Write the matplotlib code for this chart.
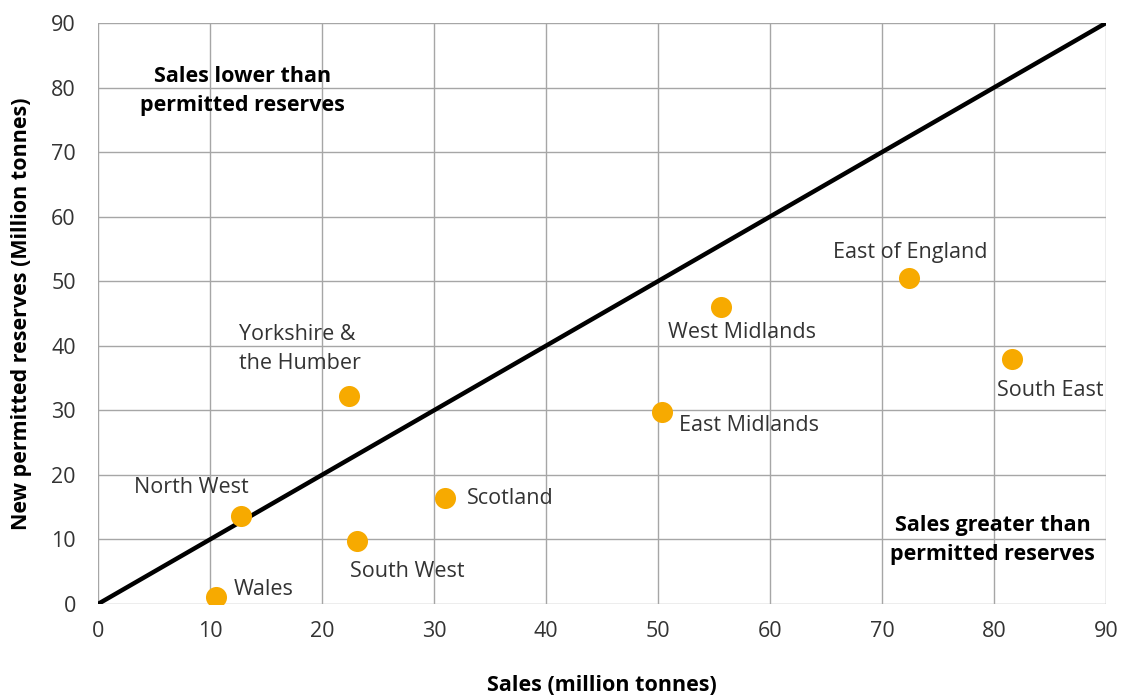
import matplotlib
matplotlib.use("Agg")
import matplotlib.pyplot as plt

regions = ["Wales", "North West", "South West", "Scotland", "Yorkshire &\nthe Humber",
           "East Midlands", "West Midlands", "East of England", "South East"]
sales = [10.5, 12.8, 23.1, 31.0, 22.4, 50.4, 55.6, 72.4, 81.6]
reserves = [1.1, 13.7, 9.8, 16.4, 32.2, 29.7, 46.0, 50.5, 37.9]
ticks = [0, 10, 20, 30, 40, 50, 60, 70, 80, 90]

# label placement (offsets in data units) and alignment
label_pos = [(12.1, 2.2, "left"), (8.35, 18.1, "center"), (27.6, 5.0, "center"),
             (32.9, 16.4, "left"), (12.6, 39.5, "left"), (51.9, 27.7, "left"),
             (50.9, 42.1, "left"), (72.5, 54.5, "center"), (85.0, 33.0, "center")]

plt.rcParams['font.family'] = ['Open Sans', 'DejaVu Sans']

fig = plt.figure(figsize=(11.21, 6.97), dpi=100)
ax = fig.add_axes([0.0874, 0.1334, 0.8992, 0.8336])
ax.set_xlim(0, 90)
ax.set_ylim(0, 90)
ax.set_xticks(ticks)
ax.set_yticks(ticks)
ax.grid(True, color='#a6a6a6', linewidth=1.0)
ax.set_axisbelow(True)
for s in ax.spines.values():
    s.set_visible(False)
ax.tick_params(length=0, labelsize=15.5, colors='#333333', pad=12)
ax.tick_params(axis='y', pad=16)

ax.plot([0, 90], [0, 90], color='black', linewidth=3.2, solid_capstyle='butt', zorder=2)
ax.scatter(sales, reserves, s=230, color='#F7AA00', zorder=3, linewidths=0)

for name, (lx, ly, ha) in zip(regions, label_pos):
    ax.text(lx, ly, name, ha=ha, va='center', fontsize=15.5, color='#333333',
            linespacing=1.45)

ax.text(12.9, 79.5, "Sales lower than\npermitted reserves", ha='center', va='center',
        fontsize=15.5, fontweight='bold', color='black', linespacing=1.5)
ax.text(79.9, 9.9, "Sales greater than\npermitted reserves", ha='center', va='center',
        fontsize=15.5, fontweight='bold', color='black', linespacing=1.5)

ax.set_xlabel("Sales (million tonnes)", fontsize=15.5, fontweight='bold', labelpad=24)
ax.set_ylabel("New permitted reserves (Million tonnes)", fontsize=15.5, fontweight='bold', labelpad=14)

fig.savefig("out.png", dpi=100)
